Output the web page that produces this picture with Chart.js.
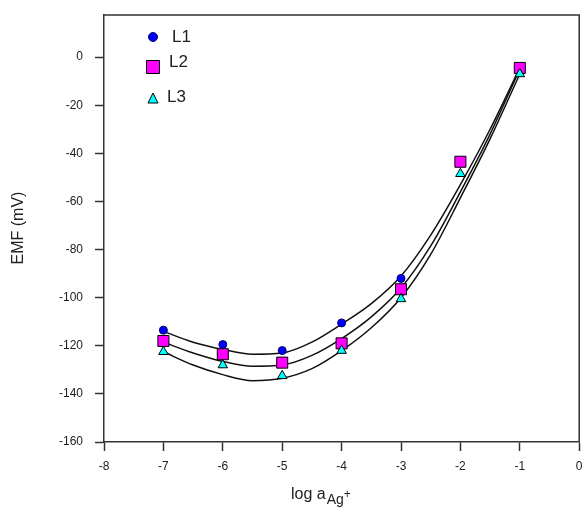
<!DOCTYPE html>
<html>
<head>
<meta charset="utf-8">
<script src="https://cdn.jsdelivr.net/npm/chart.js@4.4.1/dist/chart.umd.min.js"></script>
<style>
  html, body { margin: 0; padding: 0; background: #ffffff; overflow: hidden; }
  #wrap { width: 584px; height: 521px; position: relative; overflow: hidden; }
</style>
</head>
<body>
<div id="wrap"><canvas id="emf-chart" width="588" height="521"></canvas></div>
<script>
// measured points
const xValues = [-7, -6, -5, -4, -3, -2, -1];
const l1Values = [-113.5, -119.5, -122, -110.5, -92, -44, -5];
const l2Values = [-118, -123.5, -127, -119, -96.5, -43.5, -4.5];
const l3Values = [-122.5, -128, -132.5, -122, -100.5, -48.5, -7];

// fitted curves
const curveX = [-7, -6.5, -6, -5.5, -5, -4.5, -4, -3.5, -3, -2.5, -2, -1.5, -1];
const fitL1 = [-114, -118.5, -121.5, -123.5, -123, -118.5, -111, -102.5, -91, -74, -53, -30, -4.5];
const fitL2 = [-118.5, -123, -126.5, -128.5, -128, -124, -117, -108, -96, -78.5, -56, -32, -5];
const fitL3 = [-122.5, -128, -132, -134.5, -133.5, -129.5, -122, -112.5, -100, -82, -58.5, -34, -7];

const xTicks = [-8, -7, -6, -5, -4, -3, -2, -1, 0];
const yTicks = [-160, -140, -120, -100, -80, -60, -40, -20, 0];

const seriesNames = ['L1', 'L2', 'L3'];

function toPoints(xs, ys) {
    return xs.map((x, i) => ({ x: x, y: ys[i] }));
}

function curveSet(ys) {
    return {
        type: 'line',
        data: toPoints(curveX, ys),
        borderColor: '#111111',
        borderWidth: 1.5,
        pointRadius: 0,
        fill: false,
        cubicInterpolationMode: 'monotone',
        order: 4,
    };
}

const AXIS = '#333333';
const FONT = "Arial, 'Liberation Sans', sans-serif";

// frame, titles and the legend inside the plot
const extras = {
    id: 'extras',
    afterDraw(chart) {
        const ctx = chart.ctx;
        const a = chart.chartArea;
        ctx.save();

        // top and right frame lines
        ctx.strokeStyle = AXIS;
        ctx.lineWidth = 1.5;
        ctx.beginPath();
        ctx.moveTo(a.left, a.top);
        ctx.lineTo(a.right, a.top);
        ctx.lineTo(a.right, a.bottom);
        ctx.stroke();

        // y title
        ctx.fillStyle = '#222222';
        ctx.font = '16px ' + FONT;
        ctx.textAlign = 'center';
        ctx.textBaseline = 'middle';
        ctx.save();
        ctx.translate(19, 228);
        ctx.rotate(-Math.PI / 2);
        ctx.fillText('EMF (mV)', 0, 0);
        ctx.restore();

        // x title: log a with subscript Ag+
        ctx.textAlign = 'left';
        ctx.textBaseline = 'alphabetic';
        ctx.font = '16px ' + FONT;
        let x = 291;
        const base = 499;
        ctx.fillText('log a', x, base);
        x += ctx.measureText('log a').width + 1;
        ctx.font = '14px ' + FONT;
        ctx.fillText('Ag', x, base + 5);
        x += ctx.measureText('Ag').width;
        ctx.font = '12px ' + FONT;
        ctx.fillText('+', x, base - 1);

        // legend
        const legendRows = [
            { y: 37, tx: 172, ty: 37 },
            { y: 67, tx: 169, ty: 62 },
            { y: 98, tx: 167, ty: 97 },
        ];
        chart.data.datasets.slice(0, 3).forEach((ds, i) => {
            const r = legendRows[i];
            drawMarker(ctx, ds.pointStyle, 153, r.y, ds.legendSize, ds.pointBackgroundColor, ds.pointBorderColor);
            ctx.fillStyle = '#222222';
            ctx.font = '17px ' + FONT;
            ctx.textAlign = 'left';
            ctx.textBaseline = 'middle';
            ctx.fillText(seriesNames[i], r.tx, r.ty);
        });

        ctx.restore();
    }
};

function drawMarker(ctx, style, x, y, s, fill, stroke) {
    ctx.save();
    ctx.fillStyle = fill;
    ctx.strokeStyle = stroke;
    ctx.lineWidth = 1;
    ctx.beginPath();
    if (style === 'rect') {
        ctx.rect(x - s / 2, y - s / 2, s, s);
    } else if (style === 'triangle') {
        ctx.moveTo(x, y - s / 2);
        ctx.lineTo(x + s / 2, y + s / 2);
        ctx.lineTo(x - s / 2, y + s / 2);
        ctx.closePath();
    } else {
        ctx.arc(x, y, s / 2, 0, Math.PI * 2);
    }
    ctx.fill();
    ctx.stroke();
    ctx.restore();
}

const ctx = document.getElementById('emf-chart').getContext('2d');

new Chart(ctx, {
    type: 'scatter',
    data: {
        datasets: [
            {
                label: 'L1',
                data: toPoints(xValues, l1Values),
                pointStyle: 'circle',
                pointRadius: 4,
                pointBackgroundColor: '#0000ff',
                pointBorderColor: '#000060',
                pointBorderWidth: 1,
                legendSize: 9,
                order: 3,
            },
            {
                label: 'L2',
                data: toPoints(xValues, l2Values),
                pointStyle: 'rect',
                pointRadius: 7.8,
                pointBackgroundColor: '#ff00ff',
                pointBorderColor: '#000000',
                pointBorderWidth: 1,
                legendSize: 13,
                order: 2,
            },
            {
                label: 'L3',
                data: toPoints(xValues, l3Values),
                pointStyle: 'triangle',
                pointRadius: 5.5,
                pointBackgroundColor: '#00ffff',
                pointBorderColor: '#000000',
                pointBorderWidth: 1,
                legendSize: 10,
                order: 1,
            },
            curveSet(fitL1),
            curveSet(fitL2),
            curveSet(fitL3),
        ],
    },
    options: {
        responsive: false,
        animation: false,
        events: [],
        layout: {
            padding: { left: 0, top: 15, right: 0, bottom: 0 },
        },
        plugins: {
            legend: { display: false },
            tooltip: { enabled: false },
            title: { display: false },
        },
        scales: {
            x: {
                type: 'linear',
                min: -8,
                max: 0,
                afterBuildTicks: (scale) => {
                    scale.ticks = xTicks.map(v => ({ value: v }));
                },
                afterFit: (scale) => {
                    scale.height = 79;
                    scale.paddingLeft = 0;
                    scale.paddingRight = 0;
                },
                grid: {
                    drawOnChartArea: false,
                    drawTicks: true,
                    tickLength: 9,
                    tickWidth: 1.5,
                    tickColor: AXIS,
                },
                border: { display: true, color: AXIS, width: 1.5 },
                ticks: {
                    color: '#222222',
                    padding: 8,
                    maxRotation: 0,
                    font: { family: FONT, size: 12 },
                },
            },
            y: {
                type: 'linear',
                min: -160,
                max: 17.5,
                afterBuildTicks: (scale) => {
                    scale.ticks = yTicks.map(v => ({ value: v }));
                },
                afterFit: (scale) => {
                    scale.width = 104;
                    scale.paddingTop = 0;
                    scale.paddingBottom = 0;
                },
                grid: {
                    drawOnChartArea: false,
                    drawTicks: true,
                    tickLength: 9,
                    tickWidth: 1.5,
                    tickColor: AXIS,
                },
                border: { display: true, color: AXIS, width: 1.5 },
                ticks: {
                    color: '#222222',
                    padding: 12,
                    font: { family: FONT, size: 12 },
                },
            },
        },
    },
    plugins: [extras],
});
</script>
</body>
</html>
